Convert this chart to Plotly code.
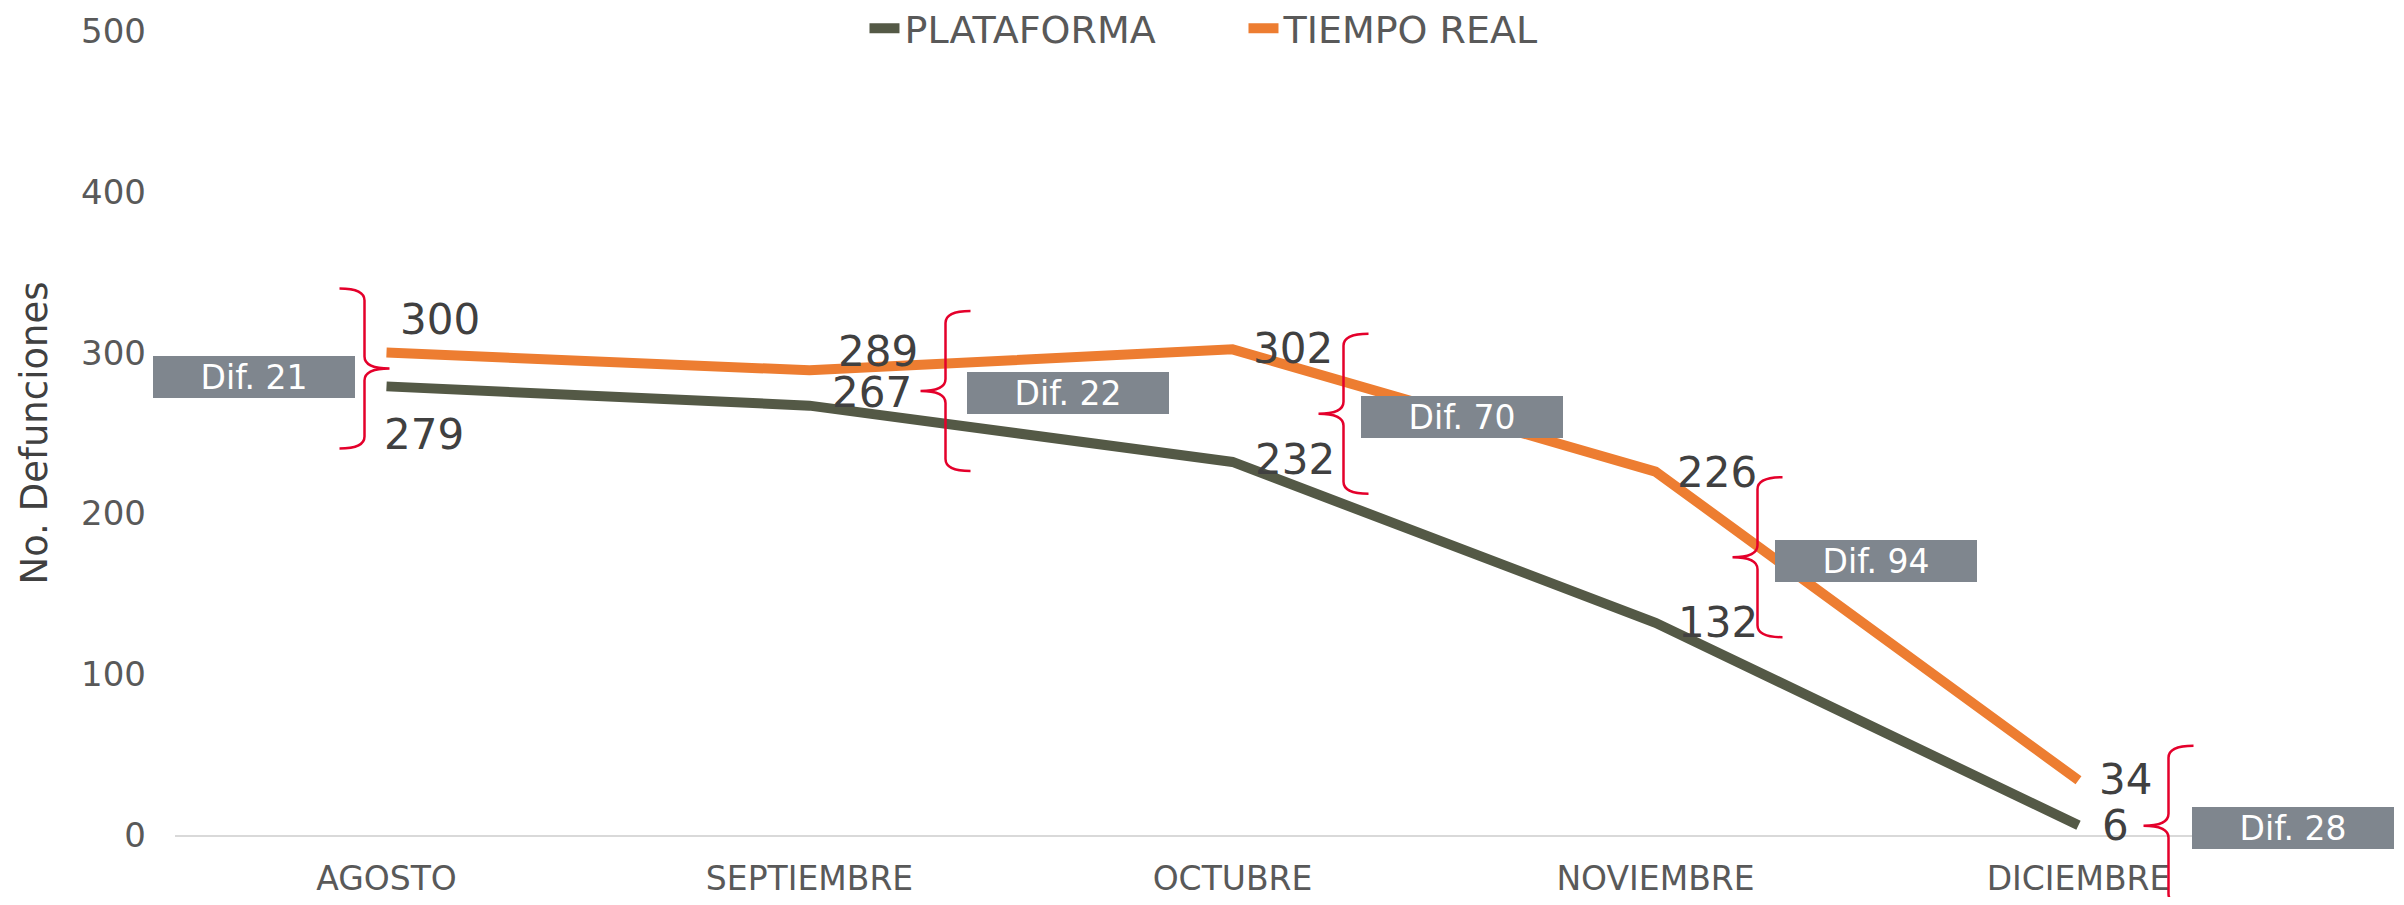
import plotly.graph_objects as go

# datos
meses = ['AGOSTO', 'SEPTIEMBRE', 'OCTUBRE', 'NOVIEMBRE', 'DICIEMBRE']
plataforma = [279, 267, 232, 132, 6]
tiempo_real = [300, 289, 302, 226, 34]

Y_MAX = 500
FONT = 'DejaVu Sans'
VERDE = '#545946'
NARANJA = '#ED7D31'
ROJO = '#E4002B'
GRIS_CAJA = '#7F868E'

# ajustes manuales de etiquetas (pixeles: dx, dy hacia abajo)
off_plat = [(-5, 48), (20, -13), (20, -2), (20, 0), (21, 0)]
off_real = [(11, -33), (26, -19), (18, -1), (19, 1), (18, -1)]
# llaves: punta relativa al centro de la categoria y al punto medio
llave_punta = [(3, -1), (111, 3), (86, 8), (77, 10), (65, 23)]
llave_dir = [-1, 1, 1, 1, 1]
caja_off = [(-234, 8), (157, 5), (128, 11), (119, 14), (113, 25)]


def llave_path(tx, ty, d, h=80, w=25):
    # ty en pixeles hacia arriba
    s = tx + d * w
    e = tx + 2 * d * w
    return (f"M {e},{ty + h} Q {s},{ty + h} {s},{ty + h - 12} "
            f"L {s},{ty + 12} Q {s},{ty} {tx},{ty} "
            f"Q {s},{ty} {s},{ty - 12} L {s},{ty - h + 12} "
            f"Q {s},{ty - h} {e},{ty - h}")


fig = go.Figure()
fig.add_trace(go.Scatter(x=meses, y=plataforma, name='PLATAFORMA', mode='lines',
                         line=dict(color=VERDE, width=10)))
fig.add_trace(go.Scatter(x=meses, y=tiempo_real, name='TIEMPO REAL', mode='lines',
                         line=dict(color=NARANJA, width=10)))

annotations = []
shapes = []
for i, mes in enumerate(meses):
    for val, off in ((plataforma[i], off_plat[i]), (tiempo_real[i], off_real[i])):
        annotations.append(dict(
            x=mes, y=val, xref='x', yref='y', text=str(val), showarrow=False,
            xanchor='left', yanchor='middle', xshift=off[0], yshift=-off[1],
            font=dict(family=FONT, size=42, color='#404040')))
    medio = (plataforma[i] + tiempo_real[i]) / 2
    dif = tiempo_real[i] - plataforma[i]
    annotations.append(dict(
        x=mes, y=medio, xref='x', yref='y', text=f'Dif. {dif}', showarrow=False,
        xanchor='left', yanchor='middle', xshift=caja_off[i][0], yshift=-caja_off[i][1],
        width=202, height=42, bgcolor=GRIS_CAJA, borderpad=0, borderwidth=0,
        align='center', valign='middle',
        font=dict(family=FONT, size=33, color='white')))
    tx, ty = llave_punta[i]
    shapes.append(dict(
        type='path', xref='x', yref='paper', xsizemode='pixel', ysizemode='pixel',
        xanchor=i, yanchor=medio / Y_MAX,
        path=llave_path(tx, -ty, llave_dir[i]),
        line=dict(color=ROJO, width=2.5), layer='above'))

# la pagina deja 8px de margen en el body: la figura se reduce para caber
fig.update_layout(
    width=2388, height=889,
    margin=dict(l=167, r=106, t=23, b=62, autoexpand=False),
    paper_bgcolor='white', plot_bgcolor='white',
    font=dict(family=FONT, color='#595959'),
    showlegend=True,
    legend=dict(orientation='h', x=0.326, xanchor='left', y=1.003, yanchor='middle',
                entrywidth=334, entrywidthmode='pixels',
                font=dict(family=FONT, size=38, color='#595959'),
                bgcolor='rgba(0,0,0,0)'),
    annotations=annotations,
    shapes=shapes,
)
fig.update_xaxes(range=[-0.5, 4.5], showgrid=False, zeroline=False,
                 showline=True, linecolor='#D9D9D9', linewidth=2,
                 ticks='', tickfont=dict(family=FONT, size=33, color='#595959'),
                 ticklabelstandoff=13)
fig.update_yaxes(range=[0, Y_MAX], dtick=100, showgrid=False, zeroline=False,
                 showline=False, ticks='', ticklabelstandoff=28,
                 tickfont=dict(family=FONT, size=34, color='#595959'),
                 title=dict(text='No. Defunciones', standoff=22,
                            font=dict(family=FONT, size=37, color='#404040')))

fig.write_html("out.html")
